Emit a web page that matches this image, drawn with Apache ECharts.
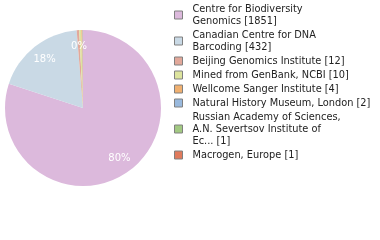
<!DOCTYPE html>
<html><head><meta charset="utf-8">
<script src="https://cdn.jsdelivr.net/npm/echarts@6/dist/echarts.min.js"></script>
<style>html,body{margin:0;padding:0;background:#fff}#c{width:380px;height:240px}</style>
</head><body><div id="c"></div>
<script>
const categories = [
  "Centre for Biodiversity Genomics",
  "Canadian Centre for DNA Barcoding",
  "Beijing Genomics Institute",
  "Mined from GenBank, NCBI",
  "Wellcome Sanger Institute",
  "Natural History Museum, London",
  "Russian Academy of Sciences, A.N. Severtsov Institute of Ec...",
  "Macrogen, Europe"
];
const legendLabels = [
  "Centre for Biodiversity\nGenomics [1851]",
  "Canadian Centre for DNA\nBarcoding [432]",
  "Beijing Genomics Institute [12]",
  "Mined from GenBank, NCBI [10]",
  "Wellcome Sanger Institute [4]",
  "Natural History Museum, London [2]",
  "Russian Academy of Sciences,\nA.N. Severtsov Institute of\nEc... [1]",
  "Macrogen, Europe [1]"
];
const values = [1851, 432, 12, 10, 4, 2, 1, 1];
const colors = ["#dcb9dc", "#c9d9e5", "#e2a89a", "#dde49e", "#f0b070", "#99b9dd", "#a2c982", "#e07a5c"];

const total = values.reduce((a, b) => a + b, 0);
const data = categories.map((n, i) => ({ name: n, value: values[i], itemStyle: { color: colors[i] } }));
const overlay = categories.map((n, i) => ({ name: n, value: values[i], itemStyle: { color: 'rgba(0,0,0,0)' } }));

const chart = echarts.init(document.getElementById('c'), null, { renderer: 'canvas' });
chart.setOption({
  animation: false,
  legend: {
    orient: 'vertical', left: 174, top: 3, itemGap: 2, padding: 0,
    itemWidth: 8, itemHeight: 8, icon: 'rect',
    itemStyle: { borderColor: '#808080', borderWidth: 1 },
    data: categories,
    selectedMode: false,
    formatter: name => legendLabels[categories.indexOf(name)],
    textStyle: { fontFamily: 'DejaVu Sans', fontSize: 9.8, lineHeight: 12, color: '#222', padding: [0, 0, 0, 5] }
  },
  series: [
    {
      type: 'pie', center: [83, 108], radius: [0, 78], startAngle: 90, clockwise: true,
      label: { show: false }, labelLine: { show: false }, data: data,
      itemStyle: { borderWidth: 0 }, silent: true
    },
    {
      type: 'pie', center: [83, 108], radius: [40, 78], startAngle: 90, clockwise: true,
      labelLine: { show: false }, data: overlay, silent: true,
      itemStyle: { borderWidth: 0 },
      label: {
        show: true, position: 'inside', color: '#fff',
        fontFamily: 'DejaVu Sans', fontSize: 10,
        formatter: p => Math.floor(p.value / total * 100) + '%'
      }
    }
  ]
});
</script></body></html>
